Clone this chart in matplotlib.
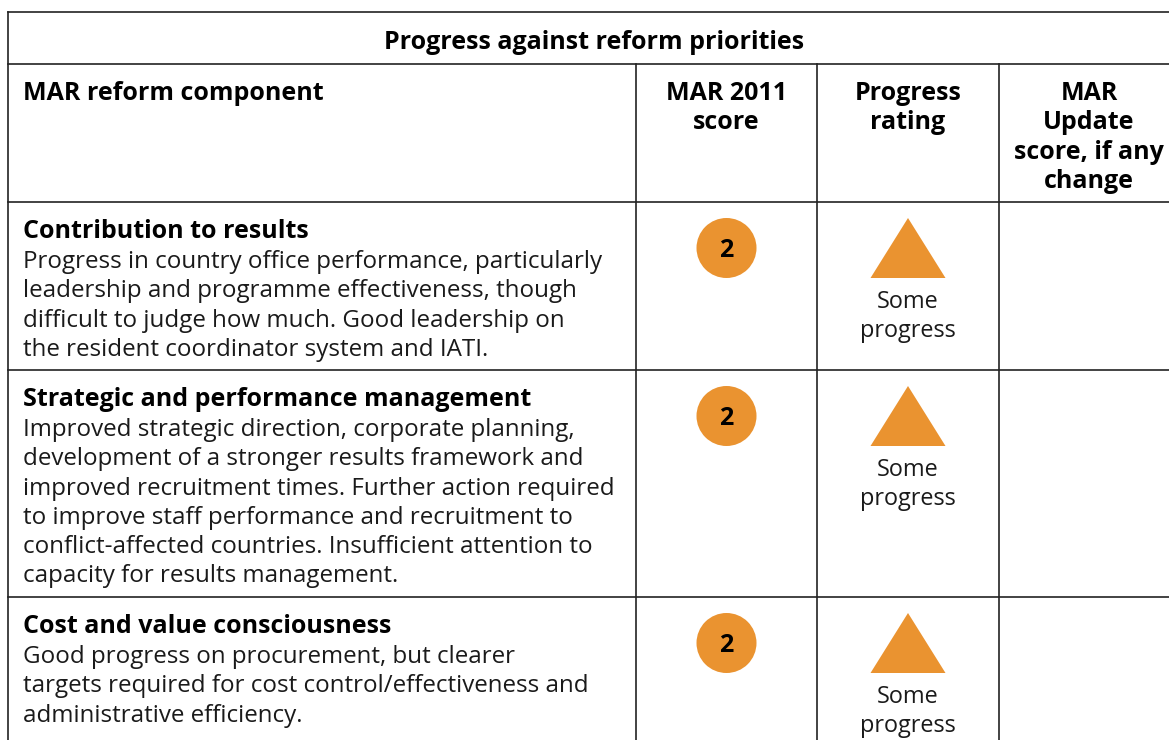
import matplotlib
matplotlib.use('Agg')
import matplotlib.pyplot as plt
from matplotlib.patches import Circle, Polygon

W, H = 1169, 740

titulo = 'Progress against reform priorities'
cabecalhos = [['MAR 2011', 'score'], ['Progress', 'rating'], ['MAR', 'Update', 'score, if any', 'change']]
componentes = ['Contribution to results', 'Strategic and performance management', 'Cost and value consciousness']
descricoes = [
    ['Progress in country office performance, particularly',
     'leadership and programme effectiveness, though',
     'difficult to judge how much. Good leadership on',
     'the resident coordinator system and IATI.'],
    ['Improved strategic direction, corporate planning,',
     'development of a stronger results framework and',
     'improved recruitment times. Further action required',
     'to improve staff performance and recruitment to',
     'conflict-affected countries. Insufficient attention to',
     'capacity for results management.'],
    ['Good progress on procurement, but clearer',
     'targets required for cost control/effectiveness and',
     'administrative efficiency.'],
]
pontuacoes = [2, 2, 2]
avaliacoes = [['Some', 'progress'], ['Some', 'progress'], ['Some', 'progress']]

laranja = '#EA9330'
preto = '#1a1a1a'
fonte = ['Open Sans', 'DejaVu Sans']
tam = 17.4
tam_b = 18.0
esp = 29.3

fig = plt.figure(figsize=(W / 100, H / 100), dpi=100)
ax = fig.add_axes([0, 0, 1, 1])
ax.set_xlim(0, W)
ax.set_ylim(H, 0)
ax.axis('off')

# linhas da tabela
linhas_h = [12, 64, 202, 370, 597]
for y in linhas_h:
    ax.plot([8, W], [y, y], color='#222222', lw=1.2)
ax.plot([8, 8], [12, H], color='#222222', lw=1.2)
for x in [636, 817, 999]:
    ax.plot([x, x], [64, H], color='#222222', lw=1.2)

ax.text(594, 49, titulo, ha='center', va='baseline', fontsize=tam_b, fontweight='bold', family=fonte, color='black')
ax.text(23, 100, 'MAR reform component', ha='left', va='baseline', fontsize=tam_b, fontweight='bold', family=fonte, color='black')

# cabeçalhos das colunas
centros = [726.5, 908, 1089]
for cx, cab in zip(centros, cabecalhos):
    for j, t in enumerate(cab):
        ax.text(cx, 100 + j * esp, t, ha='center', va='baseline', fontsize=tam_b, fontweight='bold', family=fonte, color='black')

# linhas de cada componente
for i in range(3):
    topo = linhas_h[i + 2]
    ax.text(23, topo + 36, componentes[i], ha='left', va='baseline', fontsize=tam_b, fontweight='bold', family=fonte, color='black')
    for j, t in enumerate(descricoes[i]):
        ax.text(23, topo + 66 + j * esp, t, ha='left', va='baseline', fontsize=tam, family=fonte, color=preto)
    ax.add_patch(Circle((726.5, topo + 46), 30, color=laranja, lw=0))
    ax.text(726.5, topo + 55, str(pontuacoes[i]), ha='center', va='baseline', fontsize=tam_b, fontweight='bold', family=fonte, color='black')
    ax.add_patch(Polygon([(908, topo + 16), (870.5, topo + 76), (945.5, topo + 76)], color=laranja, lw=0))
    for j, t in enumerate(avaliacoes[i]):
        ax.text(908, topo + 106 + j * esp, t, ha='center', va='baseline', fontsize=tam * 0.97, family=fonte, color=preto)

fig.savefig('out.png', dpi=100)
